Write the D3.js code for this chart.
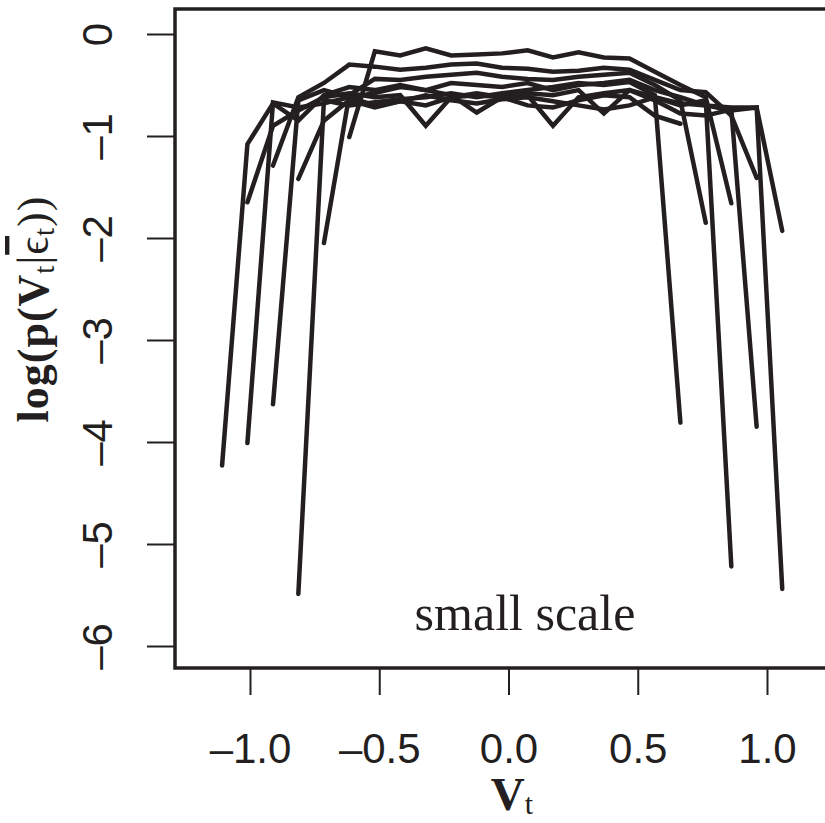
<!doctype html>
<html lang="en">
<head>
  <meta charset="utf-8">
  <script src="https://d3js.org/d3.v7.min.js"></script>
  <style>
    body { margin: 0; background: #fff; }
  </style>
</head>
<body>
  <script>
    var width = 825,
        height = 823;

    // bin centres of V_t shared by all curves
    var vGrid = [-1.108, -1.010, -0.911, -0.813, -0.714, -0.616, -0.517, -0.419,
                 -0.320, -0.222, -0.123, -0.025, 0.074, 0.172, 0.271, 0.369,
                 0.468, 0.566, 0.665, 0.763, 0.862, 0.960, 1.059];

    // index into vGrid where each curve starts
    var curveStart = [5, 2, 4, 0, 1, 1, 2, 3, 3];

    // log density values of each curve
    var curveLogP = [
      [-1.01, -0.17, -0.21, -0.14, -0.21, -0.20, -0.19, -0.16, -0.23, -0.18, -0.23, -0.24, -0.37, -0.50, -0.62, -1.66],
      [-1.29, -0.62, -0.48, -0.30, -0.32, -0.35, -0.33, -0.30, -0.29, -0.33, -0.34, -0.37, -0.36, -0.33, -0.35, -0.45, -0.55, -0.57, -0.80, -1.41],
      [-2.05, -0.60, -0.44, -0.45, -0.42, -0.40, -0.38, -0.42, -0.44, -0.45, -0.42, -0.40, -0.38, -0.50, -0.65, -1.85],
      [-4.23, -1.08, -0.68, -0.85, -0.60, -0.52, -0.55, -0.50, -0.55, -0.48, -0.50, -0.52, -0.48, -0.55, -0.50, -0.48, -0.45, -0.55, -0.62, -0.70, -0.75, -0.72, -5.44],
      [-1.65, -0.90, -0.75, -0.62, -0.58, -0.62, -0.60, -0.90, -0.62, -0.60, -0.62, -0.60, -0.90, -0.62, -0.58, -0.55, -0.62, -0.68, -0.70, -0.72, -0.72, -1.93],
      [-4.01, -0.67, -0.72, -0.68, -0.62, -0.58, -0.52, -0.55, -0.60, -0.77, -0.62, -0.58, -0.60, -0.55, -0.78, -0.55, -0.65, -0.78, -0.80, -0.74, -3.85],
      [-3.63, -0.65, -0.55, -0.62, -0.70, -0.66, -0.60, -0.65, -0.68, -0.64, -0.62, -0.66, -0.70, -0.74, -0.70, -0.62, -0.70, -0.65, -5.22],
      [-5.49, -0.65, -0.70, -0.67, -0.64, -0.62, -0.58, -0.62, -0.58, -0.55, -0.52, -0.48, -0.50, -0.47, -0.60, -3.81],
      [-1.42, -0.85, -0.65, -0.72, -0.66, -0.70, -0.62, -0.58, -0.62, -0.70, -0.72, -0.65, -0.60, -0.62, -0.80, -0.88]
    ];

    var xTicks = [-1.0, -0.5, 0.0, 0.5, 1.0];
    var yTicks = [0, -1, -2, -3, -4, -5, -6];
    var panelLabel = "small scale";

    var ink = "#231f20";

    // plot box (right side runs off the page like the original)
    var box = {left: 175, top: 9, bottom: 668, right: 835};

    var x = d3.scaleLinear().domain([-1, 1]).range([250, 767]);
    var y = d3.scaleLinear().domain([0, -6]).range([34, 646]);

    var svg = d3.select("body").append("svg")
        .attr("width", width)
        .attr("height", height);

    // curves
    var line = d3.line()
        .x(function(d) { return x(d[0]); })
        .y(function(d) { return y(d[1]); });

    var curves = curveLogP.map(function(vals, i) {
      return vals.map(function(v, j) { return [vGrid[curveStart[i] + j], v]; });
    });

    svg.append("g").selectAll("path")
        .data(curves)
      .enter().append("path")
        .attr("d", line)
        .attr("fill", "none")
        .attr("stroke", ink)
        .attr("stroke-width", 4.5)
        .attr("stroke-linejoin", "miter")
        .attr("stroke-linecap", "round");

    // box
    svg.append("rect")
        .attr("x", box.left)
        .attr("y", box.top)
        .attr("width", box.right - box.left)
        .attr("height", box.bottom - box.top)
        .attr("fill", "none")
        .attr("stroke", ink)
        .attr("stroke-width", 3.5);

    var dash = function(s) { return s.replace("\u2212", "\u2013").replace("-", "\u2013"); };

    // x axis
    var xAxis = d3.axisBottom(x)
        .tickValues(xTicks)
        .tickSize(26)
        .tickPadding(0)
        .tickFormat(function(d) { return dash(d3.format(".1f")(d)); });

    var gx = svg.append("g")
        .attr("transform", "translate(0," + (box.bottom + 1) + ")")
        .call(xAxis);
    gx.select(".domain").remove();
    gx.selectAll(".tick line").attr("stroke", ink).attr("stroke-width", 2);
    gx.selectAll(".tick text")
        .attr("fill", ink)
        .attr("font-family", "Liberation Sans, Arial, sans-serif")
        .attr("font-size", 42)
        .attr("dy", null)
        .attr("y", 94);

    // y axis, labels rotated like base R
    var yAxis = d3.axisLeft(y)
        .tickValues(yTicks)
        .tickSize(27)
        .tickFormat(function(d) { return dash(d3.format("d")(d)); });

    var gy = svg.append("g")
        .attr("transform", "translate(" + (box.left - 1) + ",0)")
        .call(yAxis);
    gy.select(".domain").remove();
    gy.selectAll(".tick line").attr("stroke", ink).attr("stroke-width", 2);
    gy.selectAll(".tick text")
        .attr("fill", ink)
        .attr("font-family", "Liberation Sans, Arial, sans-serif")
        .attr("font-size", 42)
        .attr("text-anchor", "middle")
        .attr("dy", null)
        .attr("x", null)
        .attr("transform", "translate(-62,0) rotate(-90)");

    // x axis title V_t
    var xt = svg.append("text")
        .attr("x", 512)
        .attr("y", 810)
        .attr("text-anchor", "middle")
        .attr("fill", ink)
        .attr("font-family", "Liberation Serif, DejaVu Serif, serif")
        .attr("font-weight", "bold")
        .attr("font-size", 47);
    xt.append("tspan").text("V");
    xt.append("tspan").attr("font-size", 30).attr("font-weight", "normal").attr("dy", 4).text("t");

    // y axis title log(p(V_t|eps_t))
    var yt = svg.append("text")
        .attr("transform", "translate(48,309) rotate(-90)")
        .attr("text-anchor", "middle")
        .attr("fill", ink)
        .attr("font-family", "Liberation Serif, DejaVu Serif, serif")
        .attr("font-weight", "bold")
        .attr("letter-spacing", 1)
        .attr("font-size", 44);
    yt.append("tspan").text("log(p(V");
    yt.append("tspan").attr("font-size", 29).attr("font-weight", "normal").attr("dy", 6).text("t");
    yt.append("tspan").attr("dy", -6).attr("font-weight", "normal").text("|");
    yt.append("tspan").attr("font-weight", "normal").style("text-decoration", "overline").text("\u03f5");
    yt.append("tspan").attr("font-size", 29).attr("font-weight", "normal").attr("dy", 6).text("t");
    yt.append("tspan").attr("dy", -6).attr("font-weight", "normal").text("))");

    // panel label
    svg.append("text")
        .attr("x", 525)
        .attr("y", 630)
        .attr("text-anchor", "middle")
        .attr("fill", ink)
        .attr("font-family", "Liberation Serif, DejaVu Serif, serif")
        .attr("font-size", 50)
        .text(panelLabel);
  </script>
</body>
</html>
